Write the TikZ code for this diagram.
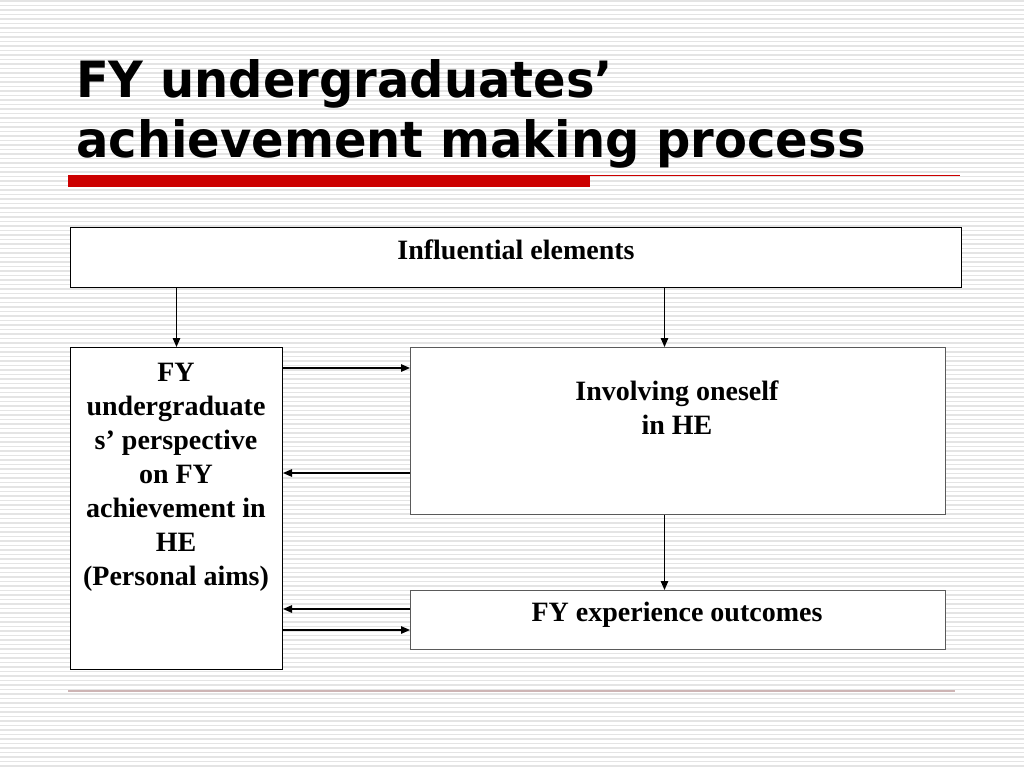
\documentclass[tikz,border=0pt]{standalone}
\usepackage{fontspec}
\setmainfont{Liberation Serif}
\newfontfamily\titlefont{DejaVu Sans}
\usetikzlibrary{arrows.meta}
\definecolor{stripe}{RGB}{228,228,228}
\definecolor{barred}{RGB}{204,0,0}
\definecolor{footline}{RGB}{205,180,180}
\definecolor{boxgray}{RGB}{90,90,90}
\tikzset{
  boxk/.style={draw=black, line width=1pt, fill=white, inner sep=0pt, anchor=north west},
  boxg/.style={draw=boxgray, line width=1pt, fill=white, inner sep=0pt, anchor=north west},
  lbl/.style={font=\fontsize{28}{34}\selectfont\bfseries, align=center, inner sep=0pt},
  ttl/.style={font=\titlefont\fontsize{50}{60}\selectfont\bfseries, inner sep=0pt, anchor=base west},
  arr/.style={line width=1.3pt, -{Triangle[length=9pt,width=7.5pt]}}
}
\begin{document}
\begin{tikzpicture}[x=1pt,y=-1pt]
\useasboundingbox (0,0) rectangle (1024,768);
\fill[white] (0,0) rectangle (1024,768);
\foreach \i in {0,...,171} {
  \draw[stripe, line width=1.6pt] (0,{1+\i*4.5}) -- (1024,{1+\i*4.5});
}
% title
\node[ttl] (t1) at (76,97) {\scalebox{0.96}[1]{FY undergraduates’}};
\node[ttl] (t2) at (76,157) {\scalebox{0.96}[1]{achievement making process}};
\fill[barred] (68,175) rectangle (590,187);
\draw[barred, line width=1pt] (590,175.5) -- (960,175.5);
\draw[footline, line width=1.2pt] (68,691) -- (955,691);
% boxes
\node[boxk, minimum width=891pt, minimum height=60pt] (inf) at (70,227) {};
\node[boxk, minimum width=212pt, minimum height=322pt] (left) at (70,347) {};
\node[boxg, minimum width=535pt, minimum height=167pt] (inv) at (410,347) {};
\node[boxg, minimum width=535pt, minimum height=59pt] (out) at (410,590) {};
% labels
\node[lbl, anchor=base] (infl) at (516,259) {Influential elements};
\node[lbl, anchor=base] (leftl) at (176,585) {FY\\undergraduate\\s’ perspective\\on FY\\achievement in\\HE\\(Personal aims)};
\node[lbl, anchor=base] (invl) at (677,434) {Involving oneself\\in HE};
\node[lbl, anchor=base] (outl) at (677,621) {FY experience outcomes};
% connectors
\coordinate (vx) at ([xshift=-13.5pt]inv.north);
\coordinate (h1) at ([yshift=-21pt]inv.north west);
\coordinate (h2) at ([yshift=-126pt]inv.north west);
\coordinate (h3) at ([yshift=-19pt]out.north west);
\coordinate (h4) at ([yshift=-40pt]out.north west);
\draw[arr] (left.north |- inf.south) -- (left.north);
\draw[arr] (vx |- inf.south) -- (vx);
\draw[arr] (vx |- inv.south) -- (vx |- out.north);
\draw[arr] (h1 -| left.east) -- (h1);
\draw[arr] (h2) -- (h2 -| left.east);
\draw[arr] (h3) -- (h3 -| left.east);
\draw[arr] (h4 -| left.east) -- (h4);
\end{tikzpicture}
\end{document}
